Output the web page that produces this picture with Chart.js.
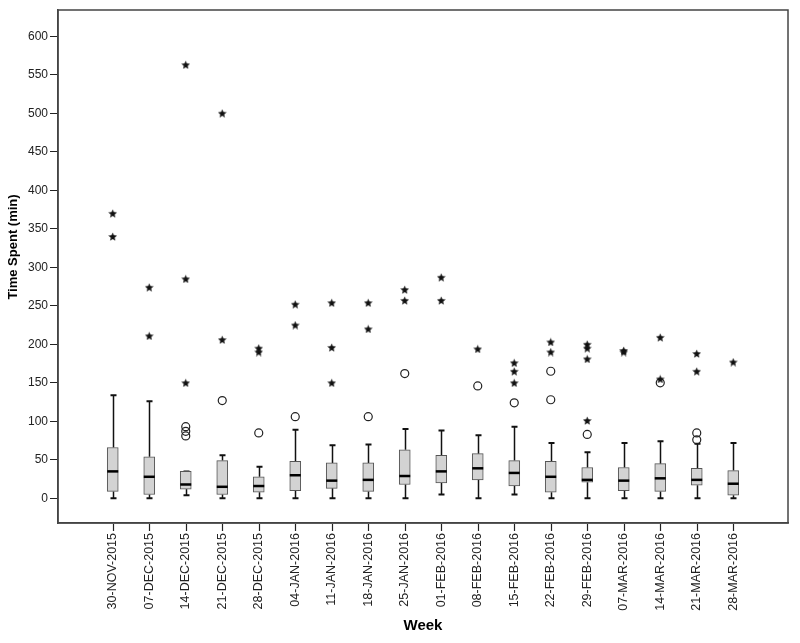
<!DOCTYPE html>
<html>
<head>
<meta charset="utf-8">
<script src="https://cdn.jsdelivr.net/npm/chart.js@4.4.1/dist/chart.umd.min.js"></script>
<style>
  body { margin: 0; background: #fff; }
  #wrap { width: 800px; height: 643px; }
</style>
</head>
<body>
<div id="wrap"><canvas id="chart" width="800" height="643"></canvas></div>
<script>
// weekly time spent
const weeks = ['30-NOV-2015', '07-DEC-2015', '14-DEC-2015', '21-DEC-2015', '28-DEC-2015',
  '04-JAN-2016', '11-JAN-2016', '18-JAN-2016', '25-JAN-2016', '01-FEB-2016', '08-FEB-2016',
  '15-FEB-2016', '22-FEB-2016', '29-FEB-2016', '07-MAR-2016', '14-MAR-2016', '21-MAR-2016', '28-MAR-2016'];

const whiskerLow  = [0, 0, 4, 0, 0, 0, 0, 0, 0, 5, 0, 5, 0, 0, 0, 0, 0, 0];
const q1          = [9, 5, 12, 5, 8, 10, 13, 9, 18, 20, 24, 16, 8, 21, 10, 9, 17, 4];
const median      = [35, 28, 18, 15, 16, 30, 23, 24, 29, 35, 39, 33, 28, 24, 23, 26, 24, 19];
const q3          = [66, 54, 35, 49, 28, 48, 46, 46, 63, 56, 58, 49, 48, 40, 40, 45, 39, 36];
const whiskerHigh = [134, 126, 35, 56, 41, 89, 69, 70, 90, 88, 82, 93, 72, 60, 72, 74, 71, 72];

// outliers (circles) and extremes (stars)
const outliers = [[], [], [93, 87, 81], [127], [85], [106], [], [106], [162], [], [146], [124],
  [128, 165], [83], [], [150], [85, 76], []];
const extremes = [[370, 340], [274, 211], [563, 285, 150], [500, 206], [195, 190], [252, 225],
  [254, 196, 150], [254, 220], [271, 257], [287, 257], [194], [176, 165, 150], [203, 190],
  [200, 195, 181, 101], [192, 190], [209, 155], [188, 165], [177]];

const yTicks = [0, 50, 100, 150, 200, 250, 300, 350, 400, 450, 500, 550, 600];

const FONT = '"Liberation Sans", Arial, sans-serif';

// small filled star for extreme values
function makeStar(size) {
  const c = document.createElement('canvas');
  c.width = size; c.height = size;
  const g = c.getContext('2d');
  const cx = size / 2, cy = size / 2 + 0.5, R = size / 2, r = R * 0.45;
  g.beginPath();
  for (let k = 0; k < 10; k++) {
    const rad = k % 2 ? r : R;
    const a = -Math.PI / 2 + k * Math.PI / 5;
    g.lineTo(cx + rad * Math.cos(a), cy + rad * Math.sin(a));
  }
  g.closePath();
  g.fillStyle = '#111';
  g.fill();
  return c;
}
const starImg = makeStar(9);

const boxData = weeks.map((w, i) => ({ x: i, y: [q1[i], q3[i]] }));
const circlePts = [];
outliers.forEach((list, i) => list.forEach(v => circlePts.push({ x: i, y: v })));
const starPts = [];
extremes.forEach((list, i) => list.forEach(v => starPts.push({ x: i, y: v })));

const boxPlugin = {
  id: 'boxParts',
  beforeDatasetsDraw(chart) {
    const ctx = chart.ctx, xs = chart.scales.x, ys = chart.scales.y;
    ctx.save();
    ctx.strokeStyle = '#111';
    weeks.forEach((w, i) => {
      const x = Math.round(xs.getPixelForValue(i)) + 0.5;
      ctx.lineWidth = 1.5;
      ctx.beginPath();
      ctx.moveTo(x, ys.getPixelForValue(whiskerLow[i]));
      ctx.lineTo(x, ys.getPixelForValue(q1[i]));
      ctx.moveTo(x, ys.getPixelForValue(q3[i]));
      ctx.lineTo(x, ys.getPixelForValue(whiskerHigh[i]));
      ctx.stroke();
      ctx.lineWidth = 2;
      ctx.beginPath();
      ctx.moveTo(x - 3, ys.getPixelForValue(whiskerLow[i]));
      ctx.lineTo(x + 3, ys.getPixelForValue(whiskerLow[i]));
      ctx.moveTo(x - 3, ys.getPixelForValue(whiskerHigh[i]));
      ctx.lineTo(x + 3, ys.getPixelForValue(whiskerHigh[i]));
      ctx.stroke();
    });
    ctx.restore();
  },
  afterDatasetsDraw(chart) {
    const ctx = chart.ctx, xs = chart.scales.x, ys = chart.scales.y, a = chart.chartArea;
    ctx.save();
    ctx.strokeStyle = '#000';
    ctx.lineWidth = 2.5;
    weeks.forEach((w, i) => {
      const x = xs.getPixelForValue(i);
      const y = ys.getPixelForValue(median[i]);
      ctx.beginPath();
      ctx.moveTo(x - 5.5, y);
      ctx.lineTo(x + 5.5, y);
      ctx.stroke();
    });
    ctx.restore();
  },
  afterDraw(chart) {
    const ctx = chart.ctx, xs = chart.scales.x, a = chart.chartArea;
    ctx.save();
    // frame around plot
    ctx.strokeStyle = '#444';
    ctx.lineWidth = 1.5;
    ctx.strokeRect(a.left, a.top, a.right - a.left, a.bottom - a.top);
    // tick marks under the week axis
    ctx.strokeStyle = '#222';
    ctx.lineWidth = 1.2;
    weeks.forEach((w, i) => {
      const x = Math.round(xs.getPixelForValue(i)) + 0.5;
      ctx.beginPath();
      ctx.moveTo(x, a.bottom + 1);
      ctx.lineTo(x, a.bottom + 8);
      ctx.stroke();
    });
    // y axis title
    ctx.fillStyle = '#000';
    ctx.font = 'bold 13px ' + FONT;
    ctx.textAlign = 'center';
    ctx.textBaseline = 'middle';
    ctx.translate(13, 247);
    ctx.rotate(-Math.PI / 2);
    ctx.fillText('Time Spent (min)', 0, 0);
    ctx.restore();
  }
};

new Chart(document.getElementById('chart'), {
  type: 'bar',
  data: {
    datasets: [
      {
        type: 'scatter',
        data: starPts,
        pointStyle: starImg,
        pointRadius: 4.5,
        order: 0
      },
      {
        type: 'scatter',
        data: circlePts,
        pointStyle: 'circle',
        pointRadius: 4,
        borderColor: '#222',
        backgroundColor: 'rgba(255,255,255,0)',
        borderWidth: 1.2,
        order: 1
      },
      {
        type: 'bar',
        data: boxData,
        barThickness: 11,
        backgroundColor: '#d3d3d3',
        borderColor: '#555',
        borderWidth: 1,
        borderSkipped: false,
        order: 2
      }
    ]
  },
  options: {
    responsive: false,
    animation: false,
    layout: { padding: { top: 10, right: 12, left: 0, bottom: 0 } },
    plugins: {
      legend: { display: false },
      tooltip: { enabled: false }
    },
    scales: {
      x: {
        type: 'linear',
        min: -1.5,
        max: 18.5,
        offset: false,
        afterBuildTicks: s => { s.ticks = weeks.map((w, i) => ({ value: i })); },
        afterFit: s => { s.height = 120; },
        grid: { offset: false, drawOnChartArea: false, drawTicks: false, color: '#222', lineWidth: 1 },
        border: { display: true, color: '#444', width: 1.5 },
        ticks: {
          autoSkip: false,
          minRotation: 90,
          maxRotation: 90,
          padding: 10,
          color: '#222',
          font: { family: '"Liberation Sans Narrow", ' + FONT, size: 12.5 },
          callback: v => weeks[v]
        },
        title: {
          display: true,
          text: 'Week',
          color: '#000',
          font: { family: FONT, size: 15, weight: 'bold' },
          padding: { top: 0, bottom: 8 }
        }
      },
      y: {
        min: -32,
        max: 634,
        afterBuildTicks: s => { s.ticks = yTicks.map(v => ({ value: v })); },
        afterFit: s => { s.width = 58; },
        grid: { drawOnChartArea: false, drawTicks: true, tickLength: 8, color: '#222', lineWidth: 1 },
        border: { display: true, color: '#444', width: 1.5 },
        ticks: {
          padding: 2,
          color: '#222',
          font: { family: FONT, size: 12 }
        }
      }
    }
  },
  plugins: [boxPlugin]
});
</script>
</body>
</html>
